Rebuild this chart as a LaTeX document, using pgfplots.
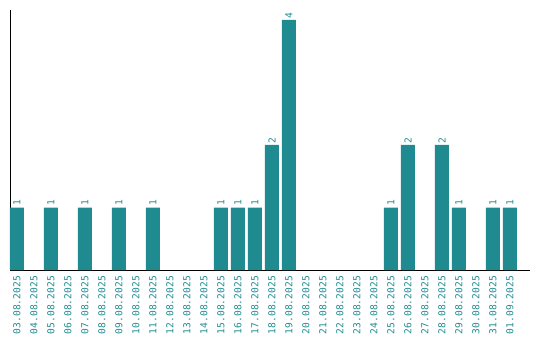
\documentclass[border=0pt]{standalone}
\usepackage{pgfplots}
\pgfplotsset{compat=1.18}
\usepackage{fontspec}
\setmainfont{DejaVu Sans Mono}
\definecolor{barteal}{RGB}{31,139,145}

\begin{document}
\begin{tikzpicture}
\begin{axis}[
    scale only axis,
    width=520pt, height=260pt,
    xmin=-0.41, xmax=30.18,
    ymin=0, ymax=4.16,
    axis x line=bottom, axis y line=left,
    axis line style={-, black, line width=1pt},
    ytick=\empty,
    xtick={0,...,29},
    xticklabels={03.08.2025,04.08.2025,05.08.2025,06.08.2025,07.08.2025,08.08.2025,09.08.2025,10.08.2025,11.08.2025,12.08.2025,13.08.2025,14.08.2025,15.08.2025,16.08.2025,17.08.2025,18.08.2025,19.08.2025,20.08.2025,21.08.2025,22.08.2025,23.08.2025,24.08.2025,25.08.2025,26.08.2025,27.08.2025,28.08.2025,29.08.2025,30.08.2025,31.08.2025,01.09.2025},
    major tick length=0pt,
    xticklabel shift=6pt,
    xticklabel style={rotate=90, anchor=east, font=\fontsize{9.6}{10}\selectfont, text=barteal, inner sep=0pt},
    /pgf/number format/assume math mode=true,
    clip=false,
]
\addplot[ybar, bar width=14pt, fill=barteal, draw=none,
    nodes near coords,
    nodes near coords style={rotate=90, anchor=west, font=\fontsize{9.6}{10}\selectfont, text=barteal, inner sep=1.5pt},
] table[x=i, y=n] {
i n
0 1
2 1
4 1
6 1
8 1
12 1
13 1
14 1
15 2
16 4
22 1
23 2
25 2
26 1
28 1
29 1
};
\end{axis}
\pgfresetboundingbox
\useasboundingbox (-10pt,-70pt) rectangle (530pt,270pt);
\end{tikzpicture}
\end{document}
